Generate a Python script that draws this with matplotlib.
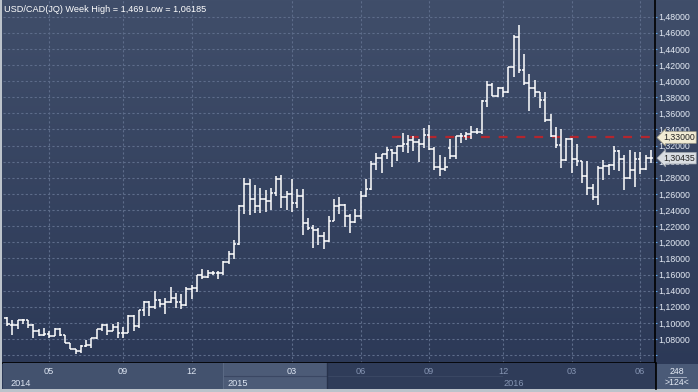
import numpy as np
import matplotlib
matplotlib.use("Agg")
import matplotlib.pyplot as plt
import matplotlib.transforms as mtransforms
from matplotlib.patches import Rectangle

plt.rcParams["font.family"] = ["Liberation Sans", "DejaVu Sans"]

# weekly USD/CAD bars (open, high, low, close), oldest first
opens = [
    1.106, 1.097, 1.097, 1.103, 1.103, 1.097, 1.090, 1.0855, 1.086, 1.084,
    1.093, 1.085, 1.075, 1.067, 1.065, 1.071, 1.072, 1.081, 1.093, 1.097,
    1.090, 1.095, 1.0875, 1.088, 1.109, 1.096, 1.116, 1.126, 1.120, 1.128,
    1.124, 1.126, 1.131, 1.126, 1.1225, 1.1425, 1.1433, 1.159, 1.157, 1.1613,
    1.162, 1.1617, 1.176, 1.185, 1.198, 1.2446, 1.2725, 1.2533, 1.2446, 1.2533,
    1.2517, 1.2617, 1.279, 1.2563, 1.26, 1.249, 1.2571, 1.2238, 1.2183, 1.2154,
    1.2083, 1.2017, 1.2263, 1.2446, 1.2458, 1.2321, 1.225, 1.2321, 1.2571, 1.2663,
    1.2971, 1.3042, 1.3092, 1.315, 1.3113, 1.32, 1.3221, 1.3263, 1.325, 1.3221,
    1.3329, 1.3154, 1.2938, 1.2904, 1.3171, 1.3071, 1.3313, 1.3313, 1.3346, 1.3363,
    1.3363, 1.375, 1.3954, 1.3821, 1.3917, 1.3859, 1.4176, 1.4547, 1.4135, 1.397,
    1.3909, 1.3859, 1.3765, 1.3518, 1.3324, 1.3209, 1.3024, 1.3279, 1.3036, 1.3003,
    1.2822, 1.2674, 1.2559, 1.2921, 1.2942, 1.2962, 1.3135, 1.3036, 1.2798, 1.29,
    1.3036, 1.2913, 1.3044,
]
highs = [
    1.107, 1.103, 1.104, 1.105, 1.104, 1.099, 1.0925, 1.094, 1.090, 1.094,
    1.094, 1.085, 1.075, 1.068, 1.072, 1.079, 1.081, 1.093, 1.099, 1.098,
    1.098, 1.101, 1.095, 1.110, 1.110, 1.116, 1.127, 1.127, 1.139, 1.130,
    1.131, 1.145, 1.1375, 1.136, 1.144, 1.1467, 1.159, 1.1667, 1.166, 1.164,
    1.164, 1.177, 1.189, 1.203, 1.2467, 1.28, 1.278, 1.271, 1.2675, 1.265,
    1.2675, 1.282, 1.284, 1.263, 1.278, 1.2667, 1.2667, 1.23, 1.221, 1.2175,
    1.2133, 1.2321, 1.2542, 1.2563, 1.2471, 1.2354, 1.2417, 1.2633, 1.2783, 1.3013,
    1.3104, 1.31, 1.318, 1.3154, 1.32, 1.335, 1.3329, 1.3313, 1.3283, 1.3417,
    1.3458, 1.3179, 1.3083, 1.3063, 1.3279, 1.3321, 1.3354, 1.3367, 1.3446, 1.3413,
    1.3771, 1.40, 1.3979, 1.3929, 1.3929, 1.4176, 1.4567, 1.4691, 1.4341, 1.4094,
    1.4012, 1.3859, 1.3867, 1.3592, 1.3435, 1.3407, 1.3291, 1.3291, 1.3217, 1.3003,
    1.3003, 1.2723, 1.2942, 1.3024, 1.297, 1.3189, 1.3147, 1.3086, 1.3147, 1.3119,
    1.3119, 1.3086, 1.3147,
]
lows = [
    1.096, 1.085, 1.093, 1.098, 1.094, 1.081, 1.084, 1.084, 1.081, 1.084,
    1.084, 1.075, 1.067, 1.0619, 1.063, 1.070, 1.069, 1.080, 1.090, 1.085,
    1.0896, 1.081, 1.081, 1.0875, 1.090, 1.094, 1.108, 1.108, 1.117, 1.120,
    1.111, 1.125, 1.118, 1.1175, 1.121, 1.130, 1.138, 1.155, 1.156, 1.159,
    1.155, 1.159, 1.1725, 1.179, 1.1967, 1.235, 1.234, 1.236, 1.236, 1.238,
    1.2404, 1.257, 1.2425, 1.2404, 1.238, 1.2425, 1.209, 1.2154, 1.193, 1.1967,
    1.1917, 1.200, 1.226, 1.2346, 1.2188, 1.2113, 1.224, 1.2283, 1.2563, 1.265,
    1.2896, 1.2854, 1.3029, 1.2938, 1.3013, 1.3125, 1.3113, 1.3138, 1.30, 1.3167,
    1.315, 1.2896, 1.2821, 1.2888, 1.3029, 1.3029, 1.3229, 1.3271, 1.3283, 1.3346,
    1.3346, 1.3679, 1.3813, 1.3806, 1.3806, 1.3847, 1.4053, 1.4106, 1.395, 1.3629,
    1.3806, 1.3662, 1.3497, 1.3312, 1.3168, 1.2921, 1.3003, 1.2859, 1.2942, 1.2736,
    1.2592, 1.253, 1.246, 1.2769, 1.283, 1.290, 1.288, 1.2645, 1.278, 1.2682,
    1.2847, 1.290, 1.2983,
]
closes = [
    1.098, 1.097, 1.103, 1.104, 1.097, 1.090, 1.0855, 1.086, 1.084, 1.093,
    1.085, 1.075, 1.067, 1.065, 1.071, 1.072, 1.081, 1.093, 1.097, 1.090,
    1.095, 1.0875, 1.088, 1.109, 1.096, 1.116, 1.126, 1.120, 1.128, 1.124,
    1.126, 1.131, 1.126, 1.1225, 1.1425, 1.1433, 1.159, 1.157, 1.1613, 1.162,
    1.1617, 1.176, 1.185, 1.198, 1.2446, 1.2725, 1.2533, 1.2446, 1.2533, 1.2517,
    1.2617, 1.279, 1.2563, 1.26, 1.249, 1.2571, 1.2238, 1.2183, 1.2154, 1.2083,
    1.2017, 1.2263, 1.2446, 1.2458, 1.2321, 1.225, 1.2321, 1.2571, 1.2663, 1.2971,
    1.3042, 1.3092, 1.315, 1.3113, 1.32, 1.3221, 1.3263, 1.325, 1.3221, 1.3329,
    1.3154, 1.2938, 1.2904, 1.2938, 1.3071, 1.3313, 1.3313, 1.3346, 1.3363, 1.3363,
    1.375, 1.3954, 1.3821, 1.3917, 1.3859, 1.4176, 1.4547, 1.4135, 1.397, 1.3909,
    1.3859, 1.3765, 1.3518, 1.3324, 1.3209, 1.3024, 1.3279, 1.3036, 1.3003, 1.2822,
    1.2674, 1.2559, 1.2921, 1.2942, 1.2962, 1.3135, 1.3036, 1.2798, 1.29, 1.3036,
    1.2913, 1.3044, 1.30435,
]

# axis labels (positions are bar indices)
month_pos = [8, 22, 35, 54, 67, 80, 94, 107, 120]
month_labels = ["05", "09", "12", "03", "06", "09", "12", "03", "06"]
year_pos = [0.7, 41.7, 94.0]
year_labels = ["2014", "2015", "2016"]
y_ticks = np.arange(1.06, 1.4801, 0.02)

title = "USD/CAD(JQ) Week High = 1,469 Low = 1,06185"
ref_level = 1.33
ref_start = 73
total_bars = "248"
visible_bars = ">124<"

FS = 6.3
W, H = 698, 392
fig = plt.figure(figsize=(W / 100, H / 100), dpi=100)
fig.patch.set_facecolor("#bcc3cb")

# background gradient behind plot + price scale
bg = fig.add_axes([2 / W, 3 / H, 696 / W, 389 / H])
grad = np.linspace(0, 1, 256).reshape(-1, 1)
top_c = np.array([0x40, 0x4e, 0x6a]) / 255
bot_c = np.array([0x2b, 0x38, 0x56]) / 255
img = top_c + (bot_c - top_c) * grad[:, :, None]
bg.imshow(img, aspect="auto", extent=[0, 1, 0, 1])
bg.set_axis_off()

ax = fig.add_axes([3 / W, (H - 363) / H, 652 / W, 363 / H])
ax.set_facecolor("none")
xmin, xmax = -0.76, 122.8
ax.set_xlim(xmin, xmax)
ax.set_ylim(1.0502, 1.5006)

idx = np.arange(len(closes))
ax.vlines(idx, lows, highs, color="white", lw=1.1, zorder=3)
ax.hlines(opens, idx - 0.48, idx, color="white", lw=1.1, zorder=3)
ax.hlines(closes, idx, idx + 0.48, color="white", lw=1.1, zorder=3)

ax.hlines(ref_level, ref_start, xmax, color="#b3262e", lw=1.6,
          linestyles=(0, (4, 4)), zorder=2)

ax.set_yticks(y_ticks)
ax.set_yticklabels([""] + [f"{v:.5f}".replace(".", ",") for v in y_ticks[1:]])
ax.set_xticks(month_pos)
ax.grid(True, color="#5d6c8a", ls=(0, (2, 2)), lw=0.8, zorder=1)
ax.tick_params(axis="x", length=0, labelbottom=False)
ax.tick_params(axis="y", left=False, labelleft=False, right=True, labelright=True,
               direction="out", length=1.5, width=0.8, color="#5ea4e6",
               labelcolor="#e4eaf4", labelsize=FS, pad=0.8)
for s in ["left", "top"]:
    ax.spines[s].set_visible(False)
ax.spines["right"].set_color("black")
ax.spines["bottom"].set_color("black")
ax.spines["right"].set_linewidth(1.2)
ax.spines["bottom"].set_linewidth(1.2)

# price badges
tr = mtransforms.blended_transform_factory(ax.transAxes, ax.transData)
ax.text(1.0125, ref_level, "1,33000", transform=tr, ha="left", va="center",
        fontsize=FS, color="#222222", zorder=10, clip_on=False,
        bbox=dict(boxstyle="larrow,pad=0.15", fc="#f2ecd4", ec="#a09c88", lw=0.5))
ax.text(1.0125, closes[-1], f"{closes[-1]:.5f}".replace(".", ","), transform=tr,
        ha="left", va="center", fontsize=FS, color="#222222", zorder=10,
        clip_on=False,
        bbox=dict(boxstyle="larrow,pad=0.15", fc="#d9dde2", ec="#9aa0a8", lw=0.5))

fig.text(4 / W, 1 - 9 / H, title, color="white", fontsize=6.6, va="center")

# time band
band = fig.add_axes([3 / W, (H - 389) / H, 652 / W, 26 / H])
band.set_xlim(xmin, xmax)
band.set_ylim(0, 1)
band.set_axis_off()
split = 60.6
band.add_patch(Rectangle((xmin, 0), split - xmin, 1, fc="#43526e", ec="none"))
band.add_patch(Rectangle((40.9, 0), split - 40.9, 1, fc="#4c5b77", ec="none"))
band.add_patch(Rectangle((split, 0), xmax - split, 1, fc="#2f3c59", ec="none"))
band.plot([40.9, 93.8], [0.5, 0.5], color="#3a4763", lw=0.8)
band.plot([40.9, 40.9], [0, 1], color="#5a6984", lw=0.8)
band.plot([split, split], [0, 1], color="#27324b", lw=1.0)
for p, lab in zip(month_pos, month_labels):
    c = "#dde5f2" if p < split else "#8594b2"
    band.text(p, 0.68, lab, ha="center", va="center", fontsize=FS + 0.3, color=c)
for p, lab in zip(year_pos, year_labels):
    c = "#dde5f2" if p < split else "#8594b2"
    band.text(p, 0.22, lab, ha="left", va="center", fontsize=FS + 0.3, color=c)
fig.add_artist(plt.Line2D([655.5 / W, 655.5 / W], [(H - 389) / H, (H - 363) / H],
                          color="black", lw=1.2))

# bar count box
cnt = fig.add_axes([656 / W, (H - 389) / H, 42 / W, 25 / H])
cnt.set_xlim(0, 1)
cnt.set_ylim(0, 1)
cnt.add_patch(Rectangle((0, 0), 1, 1, fc="#4a5a77", ec="none"))
cnt.text(0.5, 0.72, total_bars, ha="center", va="center", fontsize=FS, color="#e4eaf4")
cnt.plot([0.28, 0.72], [0.5, 0.5], color="#aab4c6", lw=0.6)
cnt.text(0.5, 0.25, visible_bars, ha="center", va="center", fontsize=FS, color="#e4eaf4")
cnt.set_axis_off()

fig.savefig("out.png", dpi=100, facecolor=fig.get_facecolor())
